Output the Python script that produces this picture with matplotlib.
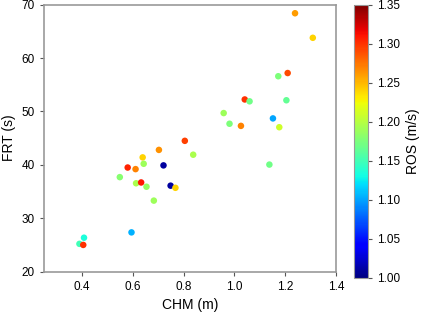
import matplotlib
matplotlib.use("Agg")
import matplotlib.pyplot as plt

plt.rcParams['font.family'] = ['Liberation Sans', 'DejaVu Sans']

# CHM (m), FRT (s), ROS (m/s)
chm = [1.239, 1.309, 1.210, 1.173, 1.041, 1.060, 1.205, 0.958, 1.152, 0.981,
       1.026, 1.177, 0.805, 0.703, 0.639, 0.838, 0.721, 1.138, 0.643, 0.580,
       0.611, 0.549, 0.613, 0.633, 0.654, 0.749, 0.768, 0.683, 0.595, 0.408,
       0.390, 0.405]
frt = [68.4, 63.8, 57.2, 56.6, 52.25, 51.9, 52.1, 49.7, 48.7, 47.7,
       47.3, 47.05, 44.5, 42.8, 41.4, 41.9, 39.9, 40.05, 40.2, 39.5,
       39.2, 37.7, 36.55, 36.7, 35.9, 36.1, 35.7, 33.3, 27.35, 26.35,
       25.2, 25.0]
ros = [1.26, 1.24, 1.29, 1.175, 1.30, 1.17, 1.165, 1.19, 1.10, 1.175,
       1.27, 1.21, 1.295, 1.265, 1.24, 1.195, 1.01, 1.17, 1.19, 1.305,
       1.27, 1.18, 1.195, 1.31, 1.185, 1.01, 1.24, 1.19, 1.105, 1.135,
       1.15, 1.30]

fig = plt.figure(figsize=(4.22, 3.14), dpi=100)
ax = fig.add_axes([0.104, 0.135, 0.692, 0.85])
cax = fig.add_axes([0.839, 0.115, 0.033, 0.87])

sc = ax.scatter(chm, frt, c=ros, cmap='jet', vmin=1.0, vmax=1.35, s=22,
                edgecolors='none')

ax.set_xlim(0.25, 1.4)
ax.set_ylim(20, 70)
ax.set_xticks([0.4, 0.6, 0.8, 1.0, 1.2, 1.4])
ax.set_yticks([20, 30, 40, 50, 60, 70])
ax.set_xlabel('CHM (m)', fontsize=10)
ax.set_ylabel('FRT (s)', fontsize=10)
ax.tick_params(labelsize=8.5, direction='out', length=3, color='#555555')
for sp in ax.spines.values():
    sp.set_color('#999999')
    sp.set_linewidth(1.2)

cb = fig.colorbar(sc, cax=cax)
cb.set_ticks([1.0, 1.05, 1.1, 1.15, 1.2, 1.25, 1.3, 1.35])
cb.ax.set_yticklabels(['1.00', '1.05', '1.10', '1.15', '1.20', '1.25', '1.30', '1.35'])
cb.ax.tick_params(labelsize=8.5, length=3, color='#555555')
cb.outline.set_edgecolor('#999999')
cb.set_label('ROS (m/s)', fontsize=10)

fig.savefig('out.png', dpi=100)
